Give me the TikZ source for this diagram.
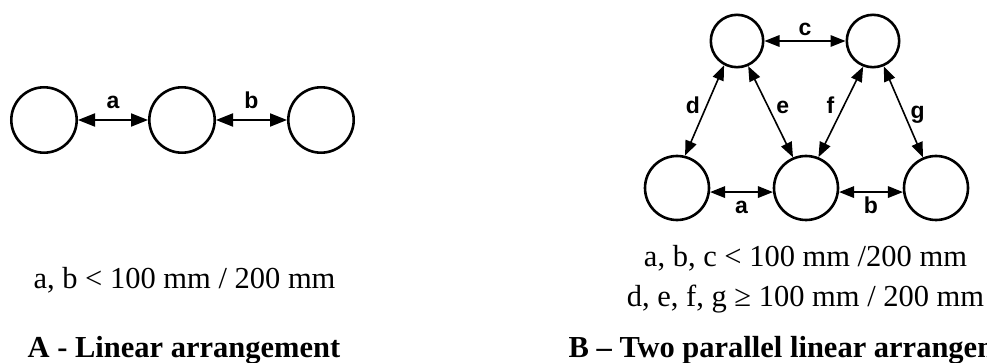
\documentclass[tikz,border=0pt]{standalone}
\usepackage{fontspec}
\setmainfont{Liberation Serif}
\newfontfamily\tagfont{Liberation Sans}
\usetikzlibrary{arrows.meta}

\begin{document}
\begin{tikzpicture}[x=1pt,y=-1pt,
    ring/.style={circle,draw,line width=2.6pt,minimum size=#1,inner sep=0pt},
    bigtip/.style={{Triangle[length=17pt,width=13pt]}-{Triangle[length=17pt,width=13pt]},line width=2pt},
    smalltip/.style={{Triangle[length=15pt,width=11.5pt]}-{Triangle[length=15pt,width=11.5pt]},line width=1.6pt},
    distlbl/.style={font=\tagfont\bfseries\fontsize{23}{23}\selectfont,inner sep=0pt,text height=16.5pt,text depth=0pt},
    rule/.style={font=\fontsize{30.5}{36}\selectfont,anchor=base,inner sep=0pt},
    captext/.style={font=\bfseries\fontsize{30.5}{36}\selectfont,anchor=base,inner sep=0pt}]
  \useasboundingbox (0,0) rectangle (987,363);
  % A - one row
  \node[ring=65.4pt] (l1) at (44,120) {};
  \node[ring=65.4pt] (l2) at (182,120) {};
  \node[ring=65.4pt] (l3) at (321,120) {};
  \draw[bigtip] (l1.east) -- (l2.west) node[midway,distlbl,above=10pt] {a};
  \draw[bigtip] (l2.east) -- (l3.west) node[midway,distlbl,above=10pt] {b};
  \node[rule] (ruleA) at (184.5,288) {a, b < 100 mm / 200 mm};
  \node[captext] (capA) at (184,357) {A - Linear arrangement};
  % B - two rows
  \node[ring=52.4pt] (t1) at (737,41) {};
  \node[ring=52.4pt] (t2) at (873,41) {};
  \node[ring=64pt] (b1) at (677,188) {};
  \node[ring=64pt] (b2) at (806,188) {};
  \node[ring=64pt] (b3) at (936,188) {};
  \draw[smalltip] (t1.east) -- (t2.west) node[midway,distlbl,above=5pt] {c};
  \draw[smalltip] (b1.-7) -- (b2.187) node[midway,distlbl,below=4pt] {a};
  \draw[smalltip] (b2.-7) -- (b3.187) node[midway,distlbl,below=4pt] {b};
  \draw[smalltip] (t1.242) -- (b1.76) node[pos=.445,distlbl,left=6pt] {d};
  \draw[smalltip] (t1.294) -- (b2.113) node[pos=.434,distlbl,right=8pt] {e};
  \draw[smalltip] (t2.249) -- (b2.68) node[pos=.428,distlbl,left=9pt] {f};
  \draw[smalltip] (t2.293) -- (b3.113) node[pos=.484,distlbl,right=7pt] {g};
  \node[rule] (ruleB1) at (805.5,266) {a, b, c < 100 mm /200 mm};
  \node[rule] (ruleB2) at (805.5,306) {d, e, f, g ≥ 100 mm / 200 mm};
  \node[captext] (capB) at (806,357) {B – Two parallel linear arrangement};
\end{tikzpicture}
\end{document}
